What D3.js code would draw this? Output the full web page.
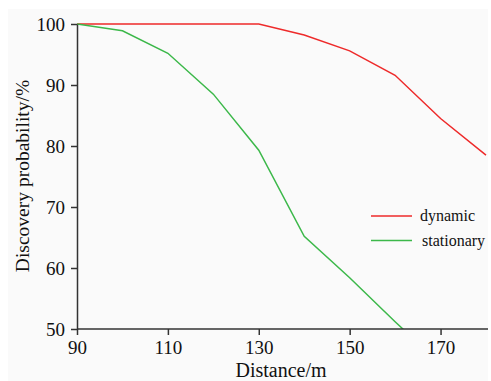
<!DOCTYPE html>
<html>
<head>
<meta charset="utf-8">
<script src="https://cdn.jsdelivr.net/npm/d3@7"></script>
<style>
  body { margin: 0; background: #fff; }
</style>
</head>
<body>
<div id="chart"></div>
<script>
// distances (m)
var distances = [90, 100, 110, 120, 130, 140, 150, 160, 170, 180];
// discovery probability (%)
var dynamicVals = [100, 100, 100, 100, 100, 98.2, 95.6, 91.6, 84.5, 78.5];
var stationaryVals = [100, 98.9, 95.2, 88.5, 79.3, 65.2, 58.4, 51.2, 44.2, null];
var xTicks = [90, 110, 130, 150, 170];
var yTicks = [50, 60, 70, 80, 90, 100];
var seriesNames = ["dynamic", "stationary"];
var seriesColors = ["#ee2a2a", "#3cb84a"];

var serif = '"Liberation Serif", "Times New Roman", serif';

var svgWidth = 491;
var svgHeight = 381;

var margin = { top: 24, right: 4, bottom: 52, left: 77 };
var width = 486 - margin.left;
var height = 329 - margin.top;

var svg = d3.select("#chart")
  .append("svg")
  .attr("width", svgWidth)
  .attr("height", svgHeight)
  .style("font-family", serif);

// faint panel background
svg.append("rect")
  .attr("x", 8).attr("y", 9)
  .attr("width", 480).attr("height", 372)
  .attr("fill", "#fafafa");

var chartGroup = svg.append("g")
  .attr("transform", `translate(${margin.left}, ${margin.top})`);

var xScale = d3.scaleLinear().domain([90, 180]).range([0, width]);
var yScale = d3.scaleLinear().domain([50, 100]).range([height, 0]);

svg.append("clipPath").attr("id", "clip")
  .append("rect")
  .attr("x", 0).attr("y", -2)
  .attr("width", width + 2).attr("height", height + 2);

// lines
var line = d3.line()
  .defined(d => d.v !== null)
  .x(d => xScale(d.x))
  .y(d => yScale(d.v));

[dynamicVals, stationaryVals].forEach(function (vals, i) {
  var pts = distances.map((x, j) => ({ x: x, v: vals[j] }));
  chartGroup.append("path")
    .datum(pts)
    .attr("clip-path", "url(#clip)")
    .attr("fill", "none")
    .attr("stroke", seriesColors[i])
    .attr("stroke-width", 1.5)
    .attr("d", line);
});

// axes
var bottomAxis = d3.axisBottom(xScale).tickValues(xTicks).tickSize(6).tickPadding(6).tickSizeOuter(0);
var leftAxis = d3.axisLeft(yScale).tickValues(yTicks).tickSize(6).tickPadding(6).tickSizeOuter(0);

var xAxis = chartGroup.append("g")
  .attr("transform", `translate(0, ${height})`)
  .call(bottomAxis);
xAxis.select(".domain").attr("d", `M0,0H${width + 2}`);

var yAxis = chartGroup.append("g").call(leftAxis);

[xAxis, yAxis].forEach(function (ax) {
  ax.attr("font-family", null).attr("font-size", null);
  ax.selectAll("path, line").attr("stroke", "#333").attr("stroke-width", 1.5);
  ax.selectAll("text")
    .attr("fill", "#111")
    .style("font-family", serif)
    .style("font-size", "19px");
});

// axis titles
svg.append("text")
  .attr("x", 281)
  .attr("y", 377)
  .attr("text-anchor", "middle")
  .attr("fill", "#111")
  .style("font-family", serif)
  .style("font-size", "20px")
  .text("Distance/m");

svg.append("text")
  .attr("transform", "translate(29, 176) rotate(-90)")
  .attr("text-anchor", "middle")
  .attr("fill", "#111")
  .style("font-family", serif)
  .style("font-size", "19.5px")
  .text("Discovery probability/%");

// legend
var legend = svg.append("g").attr("transform", "translate(371, 216)");
seriesNames.forEach(function (name, i) {
  var row = legend.append("g").attr("transform", `translate(0, ${i * 24.5})`);
  row.append("line")
    .attr("x1", 0).attr("x2", 41)
    .attr("stroke", seriesColors[i])
    .attr("stroke-width", 1.5);
  row.append("text")
    .attr("x", 49 + i * 2)
    .attr("y", 5)
    .attr("fill", "#111")
    .style("font-family", serif)
    .style("font-size", "16px")
    .text(name);
});
</script>
</body>
</html>
